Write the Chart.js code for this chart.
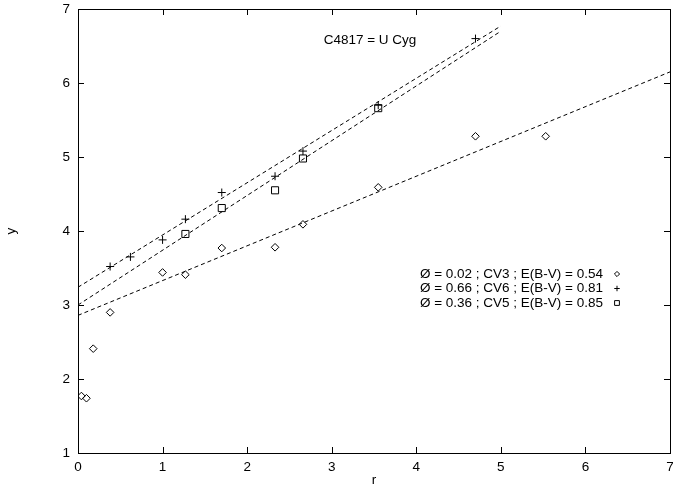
<!DOCTYPE html>
<html>
<head>
<meta charset="utf-8">
<script src="https://cdn.jsdelivr.net/npm/chart.js@4/dist/chart.umd.min.js"></script>
<style>
  html, body { margin: 0; padding: 0; background: #fff; }
  #wrap { width: 673px; height: 487px; }
</style>
</head>
<body>
<div id="wrap"><canvas id="rChart" width="673" height="487"></canvas></div>
<script>
/* values: r on the x axis, y on the y axis */
var cv3R = [0.04, 0.10, 0.18, 0.38, 1.00, 1.27, 1.70, 2.33, 2.66, 3.55, 4.70, 5.53];
var cv3Y = [1.77, 1.74, 2.41, 2.90, 3.44, 3.41, 3.77, 3.78, 4.09, 4.59, 5.28, 5.28];

var cv6R = [0.38, 0.62, 1.00, 1.27, 1.70, 2.33, 2.66, 3.55, 4.70];
var cv6Y = [3.52, 3.65, 3.88, 4.16, 4.52, 4.74, 5.08, 5.70, 6.60];

var cv5R = [1.27, 1.70, 2.33, 2.66, 3.55];
var cv5Y = [3.96, 4.31, 4.55, 4.98, 5.66];

// end points of the dashed fit lines
var fitCV3R = [0, 7];
var fitCV3Y = [2.86, 6.15];
var fitCV6R = [0, 5];
var fitCV6Y = [3.24, 6.77];
var fitCV5R = [0, 5];
var fitCV5Y = [3.00, 6.70];

var legendLabels = [
    'Ø = 0.02 ; CV3 ; E(B-V) = 0.54',
    'Ø = 0.66 ; CV6 ; E(B-V) = 0.81',
    'Ø = 0.36 ; CV5 ; E(B-V) = 0.85'
];
var plotTitle = 'C4817 = U Cyg';
var xTicks = [0, 1, 2, 3, 4, 5, 6, 7];
var yTicks = [1, 2, 3, 4, 5, 6, 7];

var fontName = '"Liberation Sans", Arial, Helvetica, sans-serif';

function toPoints(xs, ys) {
    var pts = [];
    for (var i = 0; i < xs.length; i++) {
        pts.push({ x: xs[i], y: ys[i] });
    }
    return pts;
}

function fitLine(xs, ys) {
    return {
        type: 'line',
        data: toPoints(xs, ys),
        borderColor: '#000',
        borderWidth: 1,
        borderDash: [4, 3],
        pointRadius: 0,
        fill: false,
        tension: 0
    };
}

var markerSets = [
    { data: toPoints(cv3R, cv3Y), pointStyle: 'rectRot', pointRadius: 3.8 },
    { data: toPoints(cv6R, cv6Y), pointStyle: 'cross', pointRadius: 4 },
    { data: toPoints(cv5R, cv5Y), pointStyle: 'rect', pointRadius: 5 }
];
markerSets.forEach(function(ds, i) {
    ds.type = 'scatter';
    ds.label = legendLabels[i];
    ds.borderColor = '#000';
    ds.backgroundColor = 'rgba(0,0,0,0)';
    ds.borderWidth = 1;
    ds.pointBorderWidth = 1;
});

/* frame box, inward ticks on all four sides, the title and the key */
var framePlugin = {
    id: 'frame',
    afterDraw: function(chart) {
        var ctx = chart.ctx;
        var a = chart.chartArea;
        var xs = chart.scales.x;
        var ys = chart.scales.y;
        var tick = 6;
        ctx.save();
        ctx.strokeStyle = '#000';
        ctx.lineWidth = 1;
        ctx.strokeRect(a.left + 0.5, a.top + 0.5, a.right - a.left, a.bottom - a.top);

        ctx.beginPath();
        xTicks.forEach(function(v) {
            var px = Math.round(xs.getPixelForValue(v)) + 0.5;
            ctx.moveTo(px, a.bottom);
            ctx.lineTo(px, a.bottom - tick);
            ctx.moveTo(px, a.top);
            ctx.lineTo(px, a.top + tick);
        });
        yTicks.forEach(function(v) {
            var py = Math.round(ys.getPixelForValue(v)) + 0.5;
            ctx.moveTo(a.left, py);
            ctx.lineTo(a.left + tick, py);
            ctx.moveTo(a.right, py);
            ctx.lineTo(a.right - tick, py);
        });
        ctx.stroke();

        ctx.fillStyle = '#000';
        ctx.font = '13.5px ' + fontName;
        ctx.textAlign = 'center';
        ctx.textBaseline = 'middle';
        ctx.fillText(plotTitle, (a.left + a.right) / 2 - 4, a.top + 31);

        // key, text right aligned with the marker after it
        var keyTextX = a.right - 67;
        var keyMarkX = a.right - 53;
        var keyY = a.top + 265;
        for (var i = 0; i < markerSets.length; i++) {
            var yy = keyY + i * 14.5;
            ctx.fillStyle = '#000';
            ctx.textAlign = 'right';
            ctx.fillText(legendLabels[i], keyTextX, yy);
            if (Chart.helpers && Chart.helpers.drawPoint) {
                ctx.fillStyle = 'rgba(0,0,0,0)';
                Chart.helpers.drawPoint(ctx, {
                    pointStyle: markerSets[i].pointStyle,
                    radius: markerSets[i].pointRadius * 0.68,
                    rotation: 0,
                    borderWidth: 1
                }, keyMarkX, yy);
            }
        }
        ctx.restore();
    }
};

var ctx = document.getElementById('rChart').getContext('2d');
var rChart = new Chart(ctx, {
    data: {
        datasets: markerSets.concat([
            fitLine(fitCV3R, fitCV3Y),
            fitLine(fitCV6R, fitCV6Y),
            fitLine(fitCV5R, fitCV5Y)
        ])
    },
    options: {
        responsive: false,
        animation: false,
        devicePixelRatio: 1,
        layout: {
            autoPadding: false,
            padding: { left: 0, right: 3, top: 9, bottom: 0 }
        },
        plugins: {
            legend: { display: false },
            tooltip: { enabled: false }
        },
        scales: {
            x: {
                type: 'linear',
                min: 0,
                max: 7,
                grid: { display: false, drawTicks: false },
                border: { display: false },
                ticks: {
                    stepSize: 1,
                    padding: 6,
                    color: '#000',
                    maxRotation: 0,
                    font: { family: fontName, size: 13.5 }
                },
                title: {
                    display: true,
                    text: 'r',
                    color: '#000',
                    padding: 0,
                    font: { family: fontName, size: 13.5, lineHeight: 1 }
                },
                afterFit: function(scale) {
                    scale.height = 34;
                    scale.paddingLeft = 0;
                    scale.paddingRight = 0;
                }
            },
            y: {
                type: 'linear',
                min: 1,
                max: 7,
                grid: { display: false, drawTicks: false },
                border: { display: false },
                ticks: {
                    stepSize: 1,
                    padding: 8,
                    color: '#000',
                    font: { family: fontName, size: 13.5 }
                },
                title: {
                    display: true,
                    text: 'y',
                    color: '#000',
                    padding: { top: 3, bottom: 0 },
                    font: { family: fontName, size: 13.5, lineHeight: 1.2 }
                },
                afterFit: function(scale) {
                    scale.width = 78;
                    scale.paddingTop = 0;
                    scale.paddingBottom = 0;
                }
            }
        }
    },
    plugins: [framePlugin]
});
</script>
</body>
</html>
